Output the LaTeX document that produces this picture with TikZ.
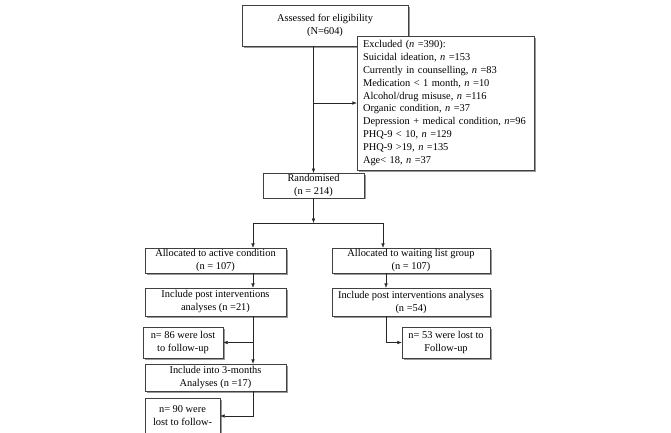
\documentclass[tikz,border=0pt]{standalone}
\usepackage{fontspec}
\setmainfont{Liberation Serif}
\usepackage{tikz}
\usetikzlibrary{calc, positioning, arrows.meta, shadows}

\tikzset{
  box/.style={draw=black!75, fill=white, thin, inner sep=1pt, align=center,
    font=\fontsize{10.4}{13}\selectfont,
    drop shadow={shadow xshift=1.5pt, shadow yshift=-1.5pt, fill=black!40, opacity=1}},
  link/.style={draw=black!85, thin}
}

\begin{document}
\begin{tikzpicture}[x=1pt, y=-1pt, >={Latex[length=4.5pt,width=3.5pt]}]
  \useasboundingbox (0,0) rectangle (671,432);
  \clip (0,0) rectangle (671,432);
  % boxes
  \node [box, minimum width=166pt, minimum height=41pt] (assess) at (325,25.5)
    {Assessed for eligibility\\(N=604)};
  \node [box, minimum width=177pt, minimum height=134pt, align=left, text width=165pt,
    inner xsep=6pt, font=\fontsize{10.4}{12.8}\selectfont] (excl) at (445.5,103)
    {Excluded (\textit{n} =390):\\
     Suicidal ideation, \textit{n} =153\\
     Currently in counselling, \textit{n} =83\\
     Medication < 1 month, \textit{n} =10\\
     Alcohol/drug misuse, \textit{n} =116\\
     Organic condition, \textit{n} =37\\
     Depression + medical condition, \textit{n}=96\\
     PHQ-9 < 10, \textit{n} =129\\
     PHQ-9 >19, \textit{n} =135\\
     Age< 18, \textit{n} =37};
  \node [box, minimum width=101pt, minimum height=24pt] (rand) at (313.5,185.5)
    {Randomised\\(n = 214)};
  \node [box, minimum width=141pt, minimum height=25pt] (active) at (215.5,260.5)
    {Allocated to active condition\\(n = 107)};
  \node [box, minimum width=158pt, minimum height=25pt] (wait) at (411,260.5)
    {Allocated to waiting list group\\(n = 107)};
  \node [box, minimum width=141pt, minimum height=28pt] (postA) at (215.5,302)
    {Include post interventions\\analyses (n =21)};
  \node [box, minimum width=158pt, minimum height=28pt] (postW) at (411,302)
    {Include post interventions analyses\\(n =54)};
  \node [box, minimum width=80pt, minimum height=31pt] (lostA) at (183,342.5)
    {n= 86 were lost\\to follow-up};
  \node [box, minimum width=88pt, minimum height=31pt] (lostW) at (446,342.5)
    {n= 53 were lost to\\Follow-up};
  \node [box, minimum width=141pt, minimum height=27pt] (three) at (215.5,377.5)
    {Include into 3-months\\Analyses (n =17)};
  \node [box, minimum width=75pt, minimum height=36pt] (lostB) at (182.5,416)
    {n= 90 were\\lost to follow-};
  % connectors
  \coordinate (split) at (313.5,223);
  \coordinate (splitL) at (253,223);
  \coordinate (splitR) at (383,223);
  \coordinate (colW) at (386,300);
  \draw [link, ->] (assess.south -| rand.north) -- (rand.north);
  \draw [link, ->] (excl.west -| rand.north) -- (excl.west);
  \draw [link, ->] (rand.south) -- (split);
  \draw [link] (splitL) -- (splitR);
  \draw [link, ->] (splitL) -- (splitL |- active.north);
  \draw [link, ->] (splitR) -- (splitR |- wait.north);
  \draw [link, ->] (active.south -| splitL) -- (postA.north -| splitL);
  \draw [link, ->] (wait.south -| colW) -- (postW.north -| colW);
  \draw [link, ->] (postW.south -| colW) |- (lostW.west);
  \draw [link, ->] (postA.south -| splitL) -- (three.north -| splitL);
  \draw [link, ->] (lostA.east -| splitL) -- (lostA.east);
  \draw [link, ->] (three.south -| splitL) |- (lostB.east);
\end{tikzpicture}
\end{document}
